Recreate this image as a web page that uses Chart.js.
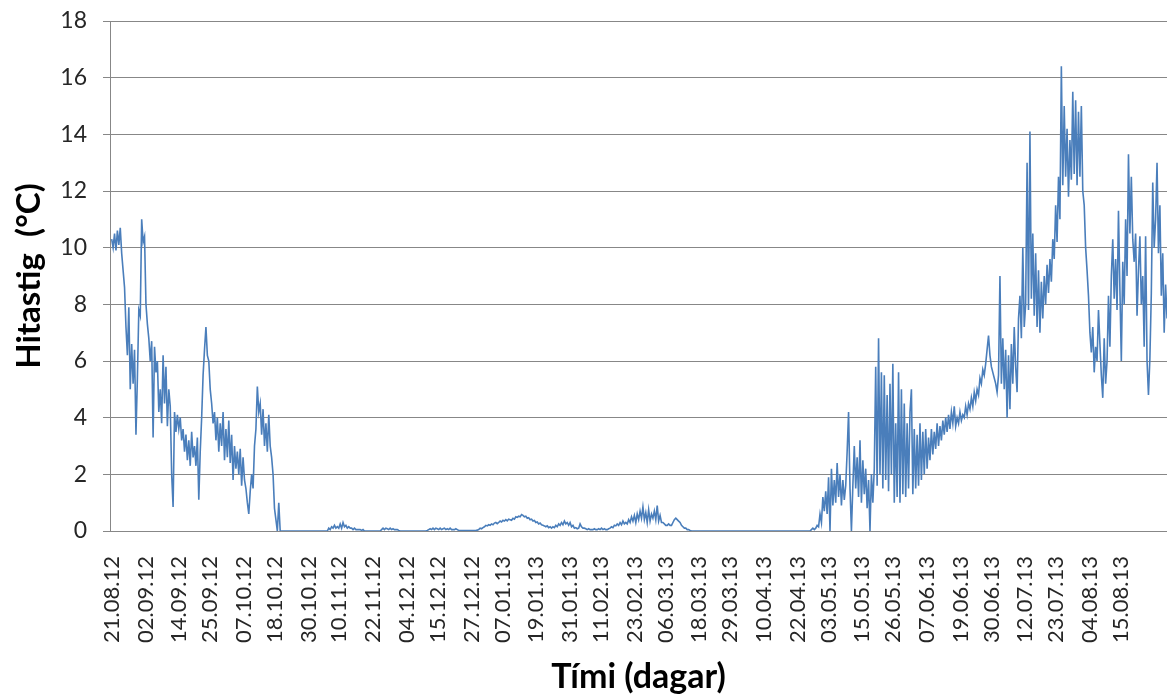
<!DOCTYPE html>
<html>
<head>
<meta charset="utf-8">
<script src="https://cdn.jsdelivr.net/npm/chart.js@4.4.1/dist/chart.umd.min.js"></script>
<style>
  html, body { margin: 0; padding: 0; background: #fff; }
  .wrap { width: 1167px; height: 697px; position: relative; }
</style>
</head>
<body>
<div class="wrap"><canvas class="temp"></canvas></div>
<script>
// tick labels on the time axis (dd.mm.yy)
let tickLabels = ['21.08.12','02.09.12','14.09.12','25.09.12','07.10.12','18.10.12','30.10.12','10.11.12',
  '22.11.12','04.12.12','15.12.12','27.12.12','07.01.13','19.01.13','31.01.13','11.02.13','23.02.13',
  '06.03.13','18.03.13','29.03.13','10.04.13','22.04.13','03.05.13','15.05.13','26.05.13','07.06.13',
  '19.06.13','30.06.13','12.07.13','23.07.13','04.08.13','15.08.13'];

let yTicks = [0, 2, 4, 6, 8, 10, 12, 14, 16, 18];

// temperature at even steps along the time axis, from 21.08.12
let stepDays = 0.508;
let temps = [
  10.3,10.0,10.5,9.9,10.6,10.1,10.7,9.8,9.2,8.6,7.2,6.2,7.9,5.0,6.6,5.2,6.4,3.4,5.4,7.8,
  7.6,11.0,10.2,10.4,8.0,7.3,6.8,6.0,6.7,3.3,6.5,5.6,6.0,4.2,5.0,3.8,6.2,4.5,5.8,3.7,
  5.0,4.4,2.0,0.85,4.2,3.5,4.1,3.6,4.0,3.2,3.6,2.8,3.4,2.5,3.2,2.3,3.5,2.6,3.0,2.3,
  3.3,1.1,2.8,4.0,5.5,6.4,7.2,6.2,6.0,5.0,4.5,3.8,4.2,3.2,4.0,2.8,3.8,3.0,4.2,2.5,
  3.6,2.6,3.9,2.4,3.4,1.8,3.0,2.2,2.8,2.0,2.9,1.6,2.6,1.8,1.5,1.0,0.6,1.4,2.0,1.5,
  3.0,3.6,5.1,4.2,4.5,3.4,4.3,3.0,3.8,2.8,4.1,3.0,2.6,2.0,0.8,0.4,0.0,1.0,0.0,0.0,
  0,0,0,0,0,0,0,0,0,0,0,0,0,0,0,0,0,0,0,0,
  0,0,0,0,0,0,0,0,0,0,0,0,0.1,0.05,0.15,0.1,0.2,0.1,0.15,0.1,
  0.25,0.1,0.3,0.15,0.2,0.1,0.15,0.1,0.1,0.05,0.1,0.05,0.05,0.05,0.05,0.02,0.05,0,0,0,
  0,0,0,0,0,0,0,0,0,0.05,0.1,0.05,0.1,0.08,0.05,0.1,0.05,0.08,0.05,0.05,
  0.05,0.02,0,0,0,0,0,0,0,0,0,0,0,0,0,0,0,0,0,0,
  0,0.02,0.05,0.08,0.05,0.1,0.05,0.1,0.08,0.05,0.1,0.05,0.08,0.1,0.05,0.08,0.05,0.1,0.05,0.05,
  0.05,0.08,0.05,0.02,0.02,0.02,0.02,0.02,0.02,0.02,0.02,0.02,0.02,0.02,0.02,0.02,0.03,0.05,0.1,0.08,
  0.12,0.15,0.2,0.18,0.22,0.2,0.25,0.22,0.28,0.3,0.26,0.3,0.35,0.32,0.38,0.35,0.4,0.36,0.42,0.4,
  0.38,0.45,0.42,0.5,0.48,0.52,0.5,0.58,0.55,0.5,0.52,0.45,0.47,0.4,0.42,0.35,0.37,0.3,0.32,0.25,
  0.28,0.22,0.2,0.18,0.15,0.18,0.12,0.15,0.1,0.15,0.12,0.2,0.15,0.25,0.2,0.3,0.22,0.35,0.25,0.3,
  0.2,0.3,0.15,0.2,0.1,0.12,0.08,0.1,0.25,0.15,0.1,0.1,0.08,0.05,0.08,0.05,0.05,0.05,0.08,0.05,
  0.05,0.08,0.05,0.1,0.05,0.08,0.05,0.05,0.08,0.1,0.15,0.12,0.2,0.18,0.25,0.2,0.3,0.22,0.35,0.25,
  0.3,0.25,0.4,0.3,0.5,0.35,0.55,0.3,0.6,0.4,0.7,0.45,0.85,0.4,0.65,0.3,0.75,0.35,0.6,0.45,
  0.7,0.4,0.9,0.35,0.55,0.3,0.3,0.25,0.2,0.2,0.25,0.2,0.2,0.3,0.4,0.45,0.4,0.35,0.3,0.2,
  0.15,0.1,0.1,0.05,0.05,0.02,0,0,0,0,0,0,0,0,0,0,0,0,0,0,
  0,0,0,0,0,0,0,0,0,0,0,0,0,0,0,0,0,0,0,0,
  0,0,0,0,0,0,0,0,0,0,0,0,0,0,0,0,0,0,0,0,
  0,0,0,0,0,0,0,0,0,0,0,0,0,0,0,0,0,0,0,0,
  0,0,0,0,0,0,0,0,0,0,0.05,0.1,0.05,0.1,0.2,0.15,0.6,0.3,1.2,0.7,
  1.4,0.6,1.9,0.0,2.2,0.9,1.8,1.0,2.4,1.2,2.0,0.9,1.8,1.1,1.6,2.8,4.2,1.5,0.0,1.6,
  3.0,1.5,2.6,1.2,3.2,1.0,2.5,1.3,2.2,0.8,1.8,0.0,2.0,1.0,2.2,5.8,1.6,6.8,2.0,5.6,
  1.5,5.5,1.8,4.8,1.4,5.2,2.0,5.9,1.0,3.8,1.2,5.6,1.0,5.0,1.3,4.5,1.2,3.8,1.5,4.2,
  5.0,1.3,3.6,1.5,3.4,1.6,3.8,1.8,3.5,2.0,3.6,2.2,3.3,2.5,3.6,2.7,3.5,2.9,3.8,3.0,
  3.7,3.2,3.9,3.4,4.0,3.5,4.1,3.6,4.2,3.8,4.4,3.7,4.0,3.8,4.2,3.9,4.1,4.0,4.4,4.1,
  4.5,4.3,4.7,4.4,4.9,4.6,5.0,4.8,5.4,5.2,5.7,5.5,5.9,6.4,6.9,6.2,5.8,5.6,5.4,5.2,
  4.9,5.5,9.0,5.2,6.8,5.0,6.4,4.0,6.2,4.3,6.6,5.2,7.2,5.8,4.9,7.5,8.3,6.8,10.0,7.2,
  8.0,13.0,7.8,14.1,8.2,10.5,7.6,9.8,7.2,9.2,7.0,8.8,7.5,9.0,8.0,9.4,8.4,9.6,8.8,10.3,
  9.6,11.5,10.2,12.5,11.0,16.4,12.2,15.0,12.5,14.2,11.8,13.8,12.4,15.5,12.6,15.2,12.2,14.8,12.5,15.0,
  12.0,11.5,10.0,9.2,8.3,7.0,6.3,7.2,5.6,6.5,6.0,7.8,6.6,5.5,4.7,6.8,5.2,6.0,8.3,6.5,
  9.0,10.3,8.2,9.6,7.8,11.3,8.5,6.0,9.5,8.0,11.0,9.0,13.3,10.5,12.5,10.3,9.5,10.5,7.6,9.2,
  10.4,8.0,9.0,6.5,10.4,6.0,4.8,6.1,8.4,12.3,10.0,11.0,13.0,9.8,11.5,8.3,9.8,7.0,8.7,7.5
];

// days since the first label, for each tick label
let toDay = function(s) {
  let p = s.split('.');
  return Date.UTC(2000 + +p[2], +p[1] - 1, +p[0]);
};
let t0 = toDay(tickLabels[0]);
let tickDays = tickLabels.map(s => (toDay(s) - t0) / 86400000);

let points = temps.map((v, i) => ({ x: i * stepDays, y: v }));

let gridGrey = '#878787';
let canvas = document.querySelector('canvas.temp');

new Chart(canvas, {
  type: 'line',
  data: {
    datasets: [{
      data: points,
      borderColor: '#4a7ebb',
      borderWidth: 1.6,
      pointRadius: 0,
      tension: 0
    }]
  },
  options: {
    responsive: true,
    maintainAspectRatio: false,
    animation: false,
    layout: { padding: { top: 21, right: 0, left: 0, bottom: 0 } },
    plugins: { legend: { display: false }, tooltip: { enabled: false } },
    scales: {
      x: {
        type: 'linear',
        min: -0.6,
        max: 375.4,
        afterBuildTicks: function(axis) {
          axis.ticks = tickDays.map(v => ({ value: v }));
        },
        afterFit: function(scale) { scale.height = 166; },
        grid: { display: false },
        border: { display: true, color: gridGrey, width: 1 },
        ticks: {
          autoSkip: false,
          minRotation: 90,
          maxRotation: 90,
          padding: 17,
          color: '#262626',
          font: { family: 'Lato', size: 22 },
          callback: function(value, index) { return tickLabels[index]; }
        },
        title: {
          display: true,
          text: 'Tími (dagar)',
          color: '#000',
          font: { family: 'Lato', size: 34, weight: 'bold' },
          padding: { top: 0, bottom: 0 }
        }
      },
      y: {
        min: 0,
        max: 18,
        afterBuildTicks: function(axis) {
          axis.ticks = yTicks.map(v => ({ value: v }));
        },
        afterFit: function(scale) {
          scale.width = 110;
          // the tick padding would otherwise push the plot top down
          scale.paddingTop = 0;
          scale.paddingBottom = 0;
        },
        grid: { color: gridGrey, lineWidth: 1, tickLength: 7, drawTicks: true },
        border: { display: true, color: gridGrey, width: 1 },
        ticks: {
          padding: 16,
          color: '#262626',
          font: { family: 'Lato', size: 23 }
        },
        title: {
          display: true,
          text: 'Hitastig  (°C)',
          color: '#000',
          font: { family: 'Lato', size: 33, weight: 'bold' },
          padding: { top: 10, bottom: 0 }
        }
      }
    }
  }
});
</script>
</body>
</html>
